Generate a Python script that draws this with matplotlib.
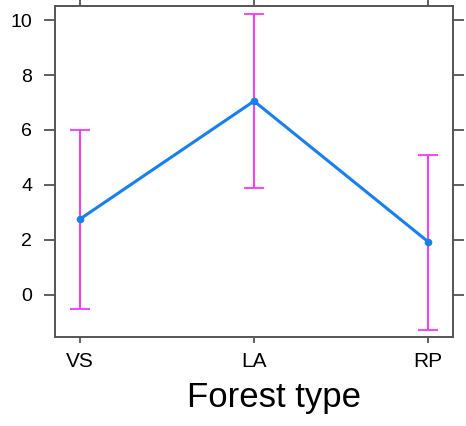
import matplotlib
matplotlib.use("Agg")
import matplotlib.pyplot as plt
import numpy as np

categories = ["VS", "LA", "RP"]
means = [2.76, 7.05, 1.94]
upper = [6.0, 10.23, 5.09]
lower = [-0.51, 3.88, -1.27]
yticks = [0, 2, 4, 6, 8, 10]

plt.rcParams['font.family'] = ['Liberation Sans', 'DejaVu Sans']

fig = plt.figure(figsize=(4.66, 4.26), dpi=100)
ax = fig.add_axes([55/466, 1-337/426, (453-55)/466, (337-6)/426])

x = np.arange(1, len(categories)+1)
m = np.array(means); up = np.array(upper); lo = np.array(lower)
ax.errorbar(x, m, yerr=[m-lo, up-m], fmt='none', ecolor='#FF33FF', elinewidth=1.4,
            capsize=7.2, capthick=1.3, zorder=2)
ax.plot(x, m, color='#1580F0', lw=2.2, marker='o', ms=4.5, zorder=3)

ax.set_xlim(1-25/174, 3+25/174)
ax.set_ylim(-1.53, 10.51)
ax.set_xticks(x)
ax.set_xticklabels(categories, fontsize=15)
ax.set_yticks(yticks)
ax.set_yticklabels([str(t) for t in yticks], fontsize=14)
ax.tick_params(axis='y', which='both', left=True, right=True, length=8, width=1.2, color='#444444', pad=8.5)
ax.tick_params(axis='x', which='both', bottom=True, top=True, length=4, width=1.2, color='#444444', pad=7)
for s in ax.spines.values():
    s.set_color('#555555')
    s.set_linewidth(1.4)

fig.text(274/466, 1-407/426, "Forest type", ha='center', va='baseline', fontsize=25)

fig.savefig("out.png", dpi=100)
